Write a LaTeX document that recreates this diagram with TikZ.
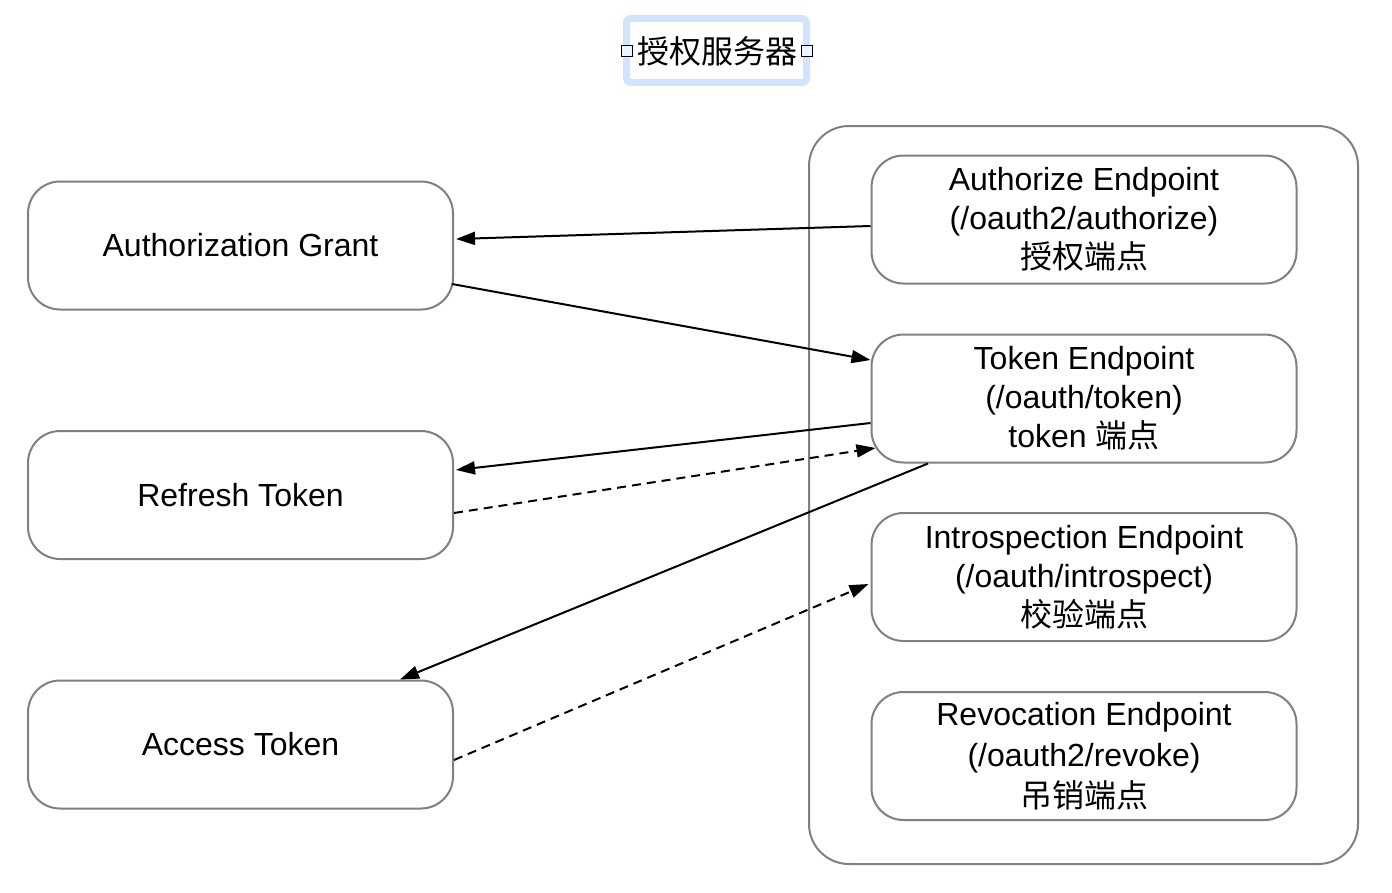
\documentclass[tikz,border=0pt]{standalone}
\usepackage{fontspec}
\setmainfont{Liberation Sans}
\newfontfamily\cjk{Noto Sans CJK SC}
\usetikzlibrary{arrows.meta}
\definecolor{boxgray}{HTML}{808080}
\definecolor{selblue}{HTML}{D2E4FC}
\definecolor{handlefill}{HTML}{EEF4FF}
\begin{document}
\begin{tikzpicture}[x=1pt,y=-1pt,
  box/.style={draw=boxgray,line width=2pt,rounded corners=32pt,fill=white,
    minimum width=425pt,minimum height=128pt,align=center,inner sep=0pt,
    font=\fontsize{32}{39}\selectfont},
  cont/.style={draw=boxgray,line width=2pt,rounded corners=40pt},
  conn/.style={line width=2pt,-{Triangle[length=19pt,width=13pt]}},
  dconn/.style={conn,dash pattern=on 9pt off 6pt},
  handle/.style={draw=black,line width=1.8pt,fill=handlefill,minimum width=11pt,minimum height=11pt,inner sep=0pt}
]
\useasboundingbox (0,0) rectangle (1392,892);
% title with selection frame
\node[draw=selblue,line width=7pt,rounded corners=4pt,minimum width=180pt,minimum height=64pt,inner sep=0pt] (selbox) at (716.5,50.5) {};
\node[font=\fontsize{32}{39}\selectfont\cjk,inner sep=0pt] (title) at (717,51) {授权服务器};
\node[handle] (hl) at (627,51) {};
\node[handle] (hr) at (807,51) {};
% container
\node[cont,minimum width=549pt,minimum height=738pt,inner sep=0pt] (server) at (1083.5,495) {};
% left boxes
\node[box] (grant) at (240.5,245.5) {Authorization Grant};
\node[box] (refresh) at (240.5,495) {Refresh Token};
\node[box] (access) at (240.5,744.5) {Access Token};
% right boxes
\node[box] (authz) at (1084,219.5) {Authorize Endpoint\\(/oauth2/authorize)\\{\cjk 授权端点}};
\node[box] (token) at (1084,398.5) {Token Endpoint\\(/oauth/token)\\token {\cjk 端点}};
\node[box] (intro) at (1084,577) {Introspection Endpoint\\(/oauth/introspect)\\{\cjk 校验端点}};
\node[box,font=\fontsize{32}{41}\selectfont] (revoke) at (1084,756) {Revocation Endpoint\\(/oauth2/revoke)\\{\cjk 吊销端点}};
% connectors
\draw[conn] ([yshift=-6.5pt]authz.west) -- ([xshift=2pt,yshift=6.5pt]grant.east);
\draw[conn] ([xshift=-2pt,yshift=-38.5pt]grant.east) -- ([yshift=38.5pt]token.west);
\draw[conn] ([yshift=-24.5pt]token.west) -- ([xshift=2pt,yshift=25pt]refresh.east);
\draw[dconn] ([yshift=-18pt]refresh.east) -- ([xshift=5pt,yshift=-49.5pt]token.west);
\draw[conn] ([xshift=-156pt]token.south) -- ([xshift=159.5pt]access.north);
\draw[dconn] ([yshift=-15.5pt]access.east) -- ([xshift=-2pt,yshift=-7pt]intro.west);
\end{tikzpicture}
\end{document}
